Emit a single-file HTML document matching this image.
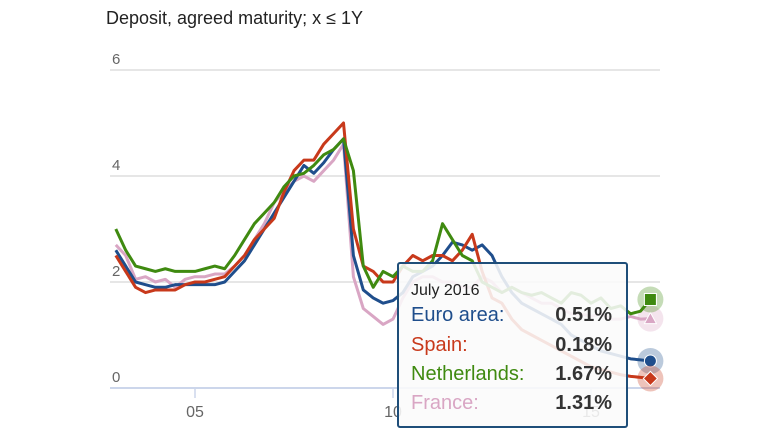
<!DOCTYPE html>
<html><head><meta charset="utf-8"><style>
body{margin:0;width:770px;height:431px;background:#fff;overflow:hidden;font-family:"Liberation Sans",sans-serif}
#title{position:absolute;left:106px;top:8px;font-size:18px;color:#222}
#tip{position:absolute;left:397px;top:262px;width:231px;height:166px;border:2px solid #1f4e79;border-radius:3px;background:rgba(250,250,250,0.88);box-sizing:border-box}
.r{position:absolute;left:12px;font-size:20px}
.v{position:absolute;right:14px;font-size:20px;font-weight:bold;color:#333}
</style></head><body>
<div id="title">Deposit, agreed maturity; x ≤ 1Y</div>
<svg id="c" width="770" height="431" style="position:absolute;left:0;top:0"></svg>
<div id="tip">
<div style="position:absolute;left:12px;top:18px;font-size:16px;color:#222">July 2016</div>
<div class="r" style="top:40px;color:#1f4e8c">Euro area:</div><div class="v" style="top:40px">0.51%</div>
<div class="r" style="top:70px;color:#c8391b">Spain:</div><div class="v" style="top:70px">0.18%</div>
<div class="r" style="top:99px;color:#3f8a10">Netherlands:</div><div class="v" style="top:99px">1.67%</div>
<div class="r" style="top:128px;color:#d9a6c4">France:</div><div class="v" style="top:128px">1.31%</div>
</div>
<script>
const yTicks=[0,2,4,6];
const xTicks=[2005,2010,2015];
const xTickLabels=["05","10","15"];
const startYear=2003, step=0.25;
const euro=[2.6,2.3,2.0,1.95,1.9,1.9,1.95,1.95,1.95,1.95,1.95,2.0,2.2,2.4,2.7,3.0,3.3,3.6,3.9,4.2,4.05,4.25,4.5,4.7,2.5,1.85,1.7,1.6,1.65,1.8,2.1,2.2,2.3,2.5,2.75,2.7,2.6,2.7,2.5,2.1,1.8,1.6,1.5,1.4,1.3,1.2,1.0,0.9,0.8,0.7,0.65,0.6,0.55,0.53,0.51];
const spain=[2.5,2.2,1.9,1.8,1.85,1.85,1.85,1.95,2.0,2.0,2.05,2.1,2.3,2.5,2.8,3.0,3.2,3.7,4.1,4.3,4.3,4.6,4.8,5.0,3.0,2.3,2.2,2.0,2.0,2.3,2.5,2.4,2.5,2.5,2.4,2.6,2.9,2.2,1.7,1.6,1.3,1.1,1.0,0.9,0.8,0.7,0.6,0.5,0.4,0.35,0.3,0.25,0.22,0.2,0.18];
const neth=[3.0,2.6,2.3,2.25,2.2,2.25,2.2,2.2,2.2,2.25,2.3,2.25,2.5,2.8,3.1,3.3,3.5,3.8,4.0,4.05,4.2,4.4,4.5,4.7,4.1,2.3,1.9,2.2,2.1,2.3,2.2,2.2,2.4,3.1,2.8,2.5,2.4,2.0,1.9,1.8,1.9,1.8,1.75,1.8,1.7,1.6,1.8,1.75,1.6,1.7,1.5,1.55,1.4,1.45,1.67];
const france=[2.7,2.5,2.05,2.1,2.0,2.05,1.9,2.05,2.1,2.1,2.15,2.15,2.3,2.5,2.8,3.1,3.5,3.7,3.9,4.0,3.9,4.1,4.3,4.6,2.1,1.5,1.35,1.2,1.3,1.7,2.0,2.1,2.1,2.0,2.0,1.9,1.9,2.1,2.0,1.8,1.9,1.8,1.7,1.6,1.6,1.5,1.4,1.4,1.35,1.4,1.3,1.3,1.35,1.3,1.31];
const X=y=>195+(y-2005)*39.6, Y=v=>388-v*53;
const svg=document.getElementById('c'),NS='http://www.w3.org/2000/svg';
function mk(t,a){const e=document.createElementNS(NS,t);for(const k in a)e.setAttribute(k,a[k]);svg.appendChild(e);return e;}
yTicks.forEach(t=>{const l=mk('line',{x1:110,x2:660,y1:Y(t),y2:Y(t),stroke:t===0?'#ccd6eb':'#ddd','stroke-width':t===0?2:1.5});

const tx=mk('text',{x:112,y:Y(t)-6,'font-size':15,fill:'#666'});tx.textContent=t;
});
xTicks.forEach((t,i)=>{const l=mk('line',{x1:X(t),x2:X(t),y1:389,y2:398,stroke:'#ccd6eb','stroke-width':1.5});

const tx=mk('text',{x:X(t),y:417,'font-size':16,fill:'#666','text-anchor':'middle'});tx.textContent=xTickLabels[i];
});
const series=[[france,'#d9a6c4','france'],[euro,'#1f4e8c','euro-area'],[spain,'#c8391b','spain'],[neth,'#3f8a10','netherlands']];
series.forEach(([d,c,n])=>{const p=mk('polyline',{points:d.map((v,i)=>X(startYear+i*step)+','+Y(v)).join(' '),fill:'none',stroke:c,'stroke-width':3,'stroke-linejoin':'round'});

const lx=X(startYear+(d.length-1)*step),ly=Y(d[d.length-1]);
const h=mk('circle',{cx:lx,cy:ly,r:13,fill:c,opacity:0.3});
let m;
if(n==='euro-area')m=mk('circle',{cx:lx,cy:ly,r:6,fill:c,stroke:'#fff'});
else if(n==='spain')m=mk('rect',{x:lx-5,y:ly-5,width:10,height:10,fill:c,stroke:'#fff',transform:`rotate(45 ${lx} ${ly})`});
else if(n==='netherlands')m=mk('rect',{x:lx-6,y:ly-6,width:12,height:12,fill:c,stroke:'#fff'});
else m=mk('polygon',{points:`${lx},${ly-6} ${lx+6},${ly+5} ${lx-6},${ly+5}`,fill:c,stroke:'#fff'});
});
</script>
</body></html>
